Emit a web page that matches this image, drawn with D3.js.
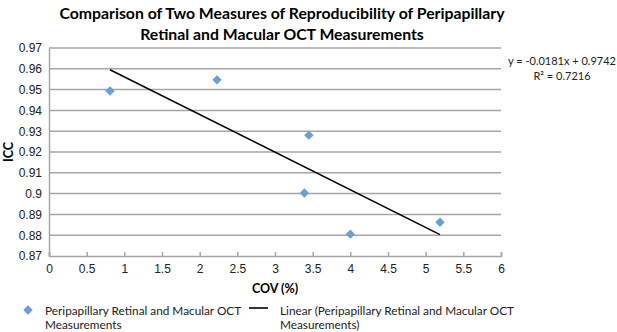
<!DOCTYPE html>
<html>
<head>
<meta charset="utf-8">
<script src="https://cdn.jsdelivr.net/npm/d3@7"></script>
<style>
  body { margin: 0; background: #fff; }
  svg { font-family: Lato, "Open Sans", sans-serif; }
</style>
</head>
<body>
<div id="chart"></div>
<script>
const titleLines = ["Comparison of Two Measures of Reproducibility of Peripapillary",
                    "Retinal and Macular OCT Measurements"];
const covValues = [0.81, 2.23, 3.45, 3.39, 4.0, 5.19];
const iccValues = [0.9493, 0.9547, 0.9281, 0.9003, 0.8805, 0.8862];
const xTicks = [0, 0.5, 1, 1.5, 2, 2.5, 3, 3.5, 4, 4.5, 5, 5.5, 6];
const yTicks = [0.87, 0.88, 0.89, 0.9, 0.91, 0.92, 0.93, 0.94, 0.95, 0.96, 0.97];
const trendSlope = -0.0181, trendIntercept = 0.9742, trendR2 = 0.7216;
const seriesName = "Peripapillary Retinal and Macular OCT Measurements";

const width = 617, height = 332;
const margin = {left: 49, right: 116, top: 48, bottom: 76};

const svg = d3.select("#chart").append("svg")
  .attr("width", width)
  .attr("height", height);

const x = d3.scaleLinear().domain([0, 6]).range([margin.left, width - margin.right]);
const y = d3.scaleLinear().domain([0.87, 0.97]).range([height - margin.bottom, margin.top]);

// title
svg.append("g").selectAll("text")
  .data(titleLines)
  .join("text")
  .attr("x", 282)
  .attr("y", (d, i) => 19 + i * 21)
  .attr("text-anchor", "middle")
  .attr("font-size", 15.8)
  .attr("font-weight", "bold")
  .attr("fill", "#000")
  .text(d => d);

// gridlines
svg.append("g").selectAll("line")
  .data(yTicks.slice(1))
  .join("line")
  .attr("x1", x(0)).attr("x2", x(6))
  .attr("y1", d => y(d)).attr("y2", d => y(d))
  .attr("stroke", "#a6a6a6")
  .attr("stroke-width", 1.5);

// x axis
const xAxis = svg.append("g")
  .attr("transform", `translate(0,${y(0.87)})`)
  .call(d3.axisBottom(x).tickValues(xTicks).tickSize(-4).tickPadding(8).tickFormat(d => d));
xAxis.select(".domain").attr("stroke", "#a6a6a6").attr("stroke-width", 1.5);
xAxis.selectAll(".tick line").attr("stroke", "#a6a6a6").attr("stroke-width", 1.5);
xAxis.selectAll("text").attr("font-size", 12).attr("fill", "#222").attr("font-family", null);

// y axis
const yAxis = svg.append("g")
  .attr("transform", `translate(${x(0)},0)`)
  .call(d3.axisLeft(y).tickValues(yTicks).tickSize(0).tickPadding(7).tickFormat(d => String(+d.toFixed(2))));
yAxis.select(".domain").attr("stroke", "#a6a6a6").attr("stroke-width", 1.5);
yAxis.selectAll("text").attr("font-size", 12).attr("fill", "#222").attr("font-family", null);

// axis titles
svg.append("text")
  .attr("x", 275).attr("y", 293)
  .attr("text-anchor", "middle")
  .attr("font-size", 12.5).attr("font-weight", "bold")
  .text("COV (%)");
svg.append("text")
  .attr("transform", `translate(13,${y(0.92)}) rotate(-90)`)
  .attr("text-anchor", "middle")
  .attr("font-size", 12.5).attr("font-weight", "bold")
  .text("ICC");

// trendline over data range
const xExt = d3.extent(covValues);
const line = d3.line().x(d => x(d)).y(d => y(trendSlope * d + trendIntercept));
svg.append("path")
  .attr("d", line(xExt))
  .attr("fill", "none")
  .attr("stroke", "#000")
  .attr("stroke-width", 1.6);

// points
const diamond = d3.symbol().type(d3.symbolSquare).size(44);
svg.append("g").selectAll("path")
  .data(covValues.map((c, i) => [c, iccValues[i]]))
  .join("path")
  .attr("d", diamond)
  .attr("transform", d => `translate(${x(d[0])},${y(d[1])}) rotate(45)`)
  .attr("fill", "#6b9fd6");

// equation
svg.append("g").selectAll("text")
  .data([`y = ${trendSlope}x + ${trendIntercept}`, `R² = ${trendR2}`])
  .join("text")
  .attr("x", 562)
  .attr("y", (d, i) => 65 + i * 15)
  .attr("text-anchor", "middle")
  .attr("font-size", 11)
  .attr("fill", "#222")
  .text(d => d);

// legend
const lg = svg.append("g").attr("font-size", 11.8).attr("fill", "#222");
lg.append("path")
  .attr("d", diamond)
  .attr("transform", "translate(28,310) rotate(45)")
  .attr("fill", "#6b9fd6");
lg.append("text").attr("x", 45).attr("y", 315).text("Peripapillary Retinal and Macular OCT");
lg.append("text").attr("x", 45).attr("y", 329).text("Measurements");
lg.append("line")
  .attr("x1", 249).attr("x2", 268).attr("y1", 308).attr("y2", 308)
  .attr("stroke", "#000").attr("stroke-width", 1.6);
lg.append("text").attr("x", 280).attr("y", 315).text("Linear (" + seriesName.replace(" Measurements", ""));
lg.append("text").attr("x", 280).attr("y", 329).text("Measurements)");
</script>
</body>
</html>
